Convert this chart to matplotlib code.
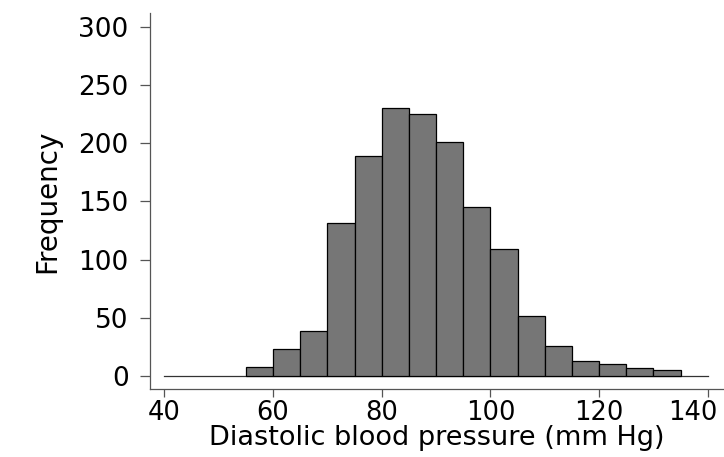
import numpy as np
import matplotlib.pyplot as plt
from matplotlib.transforms import ScaledTranslation

plt.rcParams['font.family'] = ['DejaVu Sans']

# histogram of diastolic blood pressure, bin width 5
bin_edges = [55, 60, 65, 70, 75, 80, 85, 90, 95, 100, 105, 110, 115, 120, 125, 130, 135]
counts = [8, 23, 39, 131, 189, 230, 225, 201, 145, 109, 52, 26, 13, 10, 7, 5]
xticks = [40, 60, 80, 100, 120, 140]
yticks = [0, 50, 100, 150, 200, 250, 300]

fig = plt.figure(figsize=(7.24, 4.57), dpi=100)
ax = fig.add_axes([0.2068, 0.1490, 0.7932, 0.8220])

lefts = np.array(bin_edges[:-1])
widths = np.diff(bin_edges)
ax.bar(lefts, counts, width=widths, align='edge', color='#767676',
       edgecolor='black', linewidth=0.9, zorder=3)
ax.plot([40, 140], [0, 0], color='#333333', linewidth=0.9, zorder=2)

ax.set_xlim(37.3, 143)
ax.set_ylim(-11.0, 311.4)
ax.set_xticks(xticks)
ax.set_yticks(yticks)

for side in ['top', 'right']:
    ax.spines[side].set_visible(False)
for side in ['left', 'bottom']:
    ax.spines[side].set_color('#555555')
    ax.spines[side].set_linewidth(0.9)

ax.tick_params(axis='y', length=7.2, width=0.9, color='#555555', pad=8, labelsize=19)
ax.tick_params(axis='x', length=6, width=0.9, color='#555555', pad=2, labelsize=18.5)

# last x label is pulled left so it stays inside the figure
last = ax.get_xticklabels()[-1]
last.set_transform(last.get_transform() + ScaledTranslation(-15 / 100, 0, fig.dpi_scale_trans))

ax.set_xlabel('Diastolic blood pressure (mm Hg)', fontsize=19.5, labelpad=-1)
ax.set_ylabel('Frequency', fontsize=20, labelpad=12)

fig.savefig('out.png', dpi=100)
